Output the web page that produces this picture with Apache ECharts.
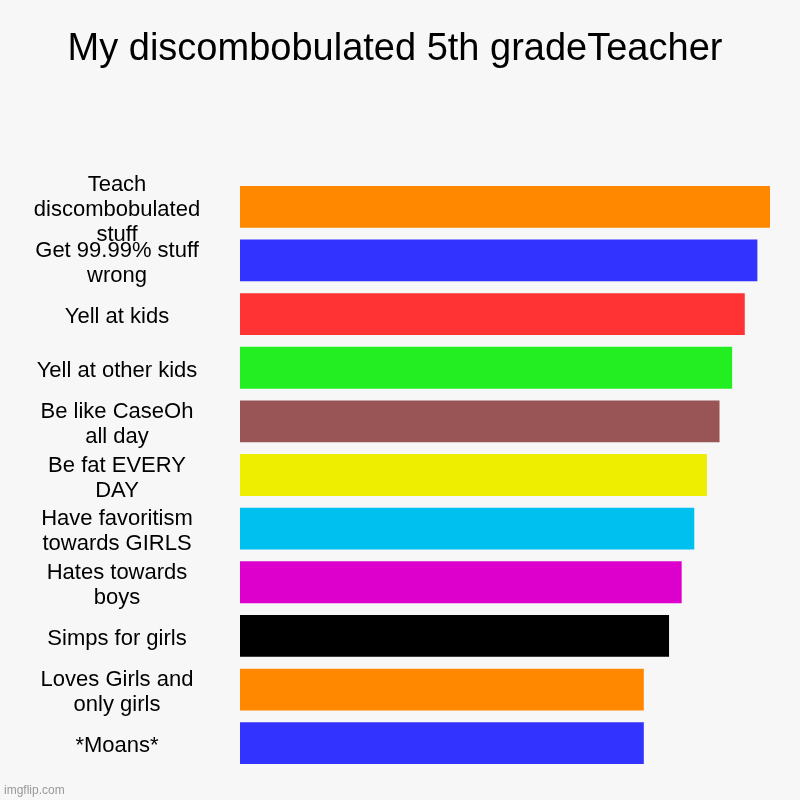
<!DOCTYPE html>
<html><head><meta charset="utf-8">
<script src="https://cdn.jsdelivr.net/npm/echarts@6/dist/echarts.min.js"></script>
<style>html,body{margin:0;padding:0;background:#f7f7f7}#c{width:800px;height:800px}</style>
</head><body><div id="c"></div>
<script>
const titleText = 'My discombobulated 5th gradeTeacher';
const categories = ['Teach\ndiscombobulated\nstuff','Get 99.99% stuff\nwrong','Yell at kids','Yell at other kids','Be like CaseOh\nall day','Be fat EVERY\nDAY','Have favoritism\ntowards GIRLS','Hates towards\nboys','Simps for girls','Loves Girls and\nonly girls','*Moans*'];
const values = [42,41,40,39,38,37,36,35,34,32,32];
const colors = ['#ff8800','#3333ff','#ff3333','#22ee22','#995555','#eeee00','#00c0f0','#dd00cc','#000000','#ff8800','#3333ff'];

const chart = echarts.init(document.getElementById('c'), null, {renderer:'canvas'});
chart.setOption({
  backgroundColor:'#f7f7f7',
  animation:false,
  title:{text:titleText,left:390,textAlign:'center',top:26,textStyle:{fontFamily:'Liberation Sans',fontSize:38,fontWeight:'normal',color:'#000'}},
  graphic:[{type:'text',left:4,top:785,style:{text:'imgflip.com',fontFamily:'Liberation Sans',fontSize:12,fill:'#999'}}],
  grid:{left:240,right:30,top:180,bottom:30,containLabel:false},
  xAxis:{type:'value',min:0,max:42,show:false},
  yAxis:{type:'category',data:categories,inverse:true,axisLine:{show:false},axisTick:{show:false},
    axisLabel:{interval:0,hideOverlap:false,align:'center',margin:123,fontFamily:'Liberation Sans',fontSize:22,color:'#000',lineHeight:25,
      formatter:v=>'{s| }\n'+v.split('\n').map(l=>'{t|'+l+'}').join('\n'),
      rich:{s:{fontSize:1,lineHeight:6},t:{fontFamily:'Liberation Sans',fontSize:22,lineHeight:25,color:'#000'}}}},
  series:[{type:'bar',data:values.map((v,i)=>({value:v,itemStyle:{color:colors[i]}})),barWidth:'78%'}]
});
</script></body></html>
